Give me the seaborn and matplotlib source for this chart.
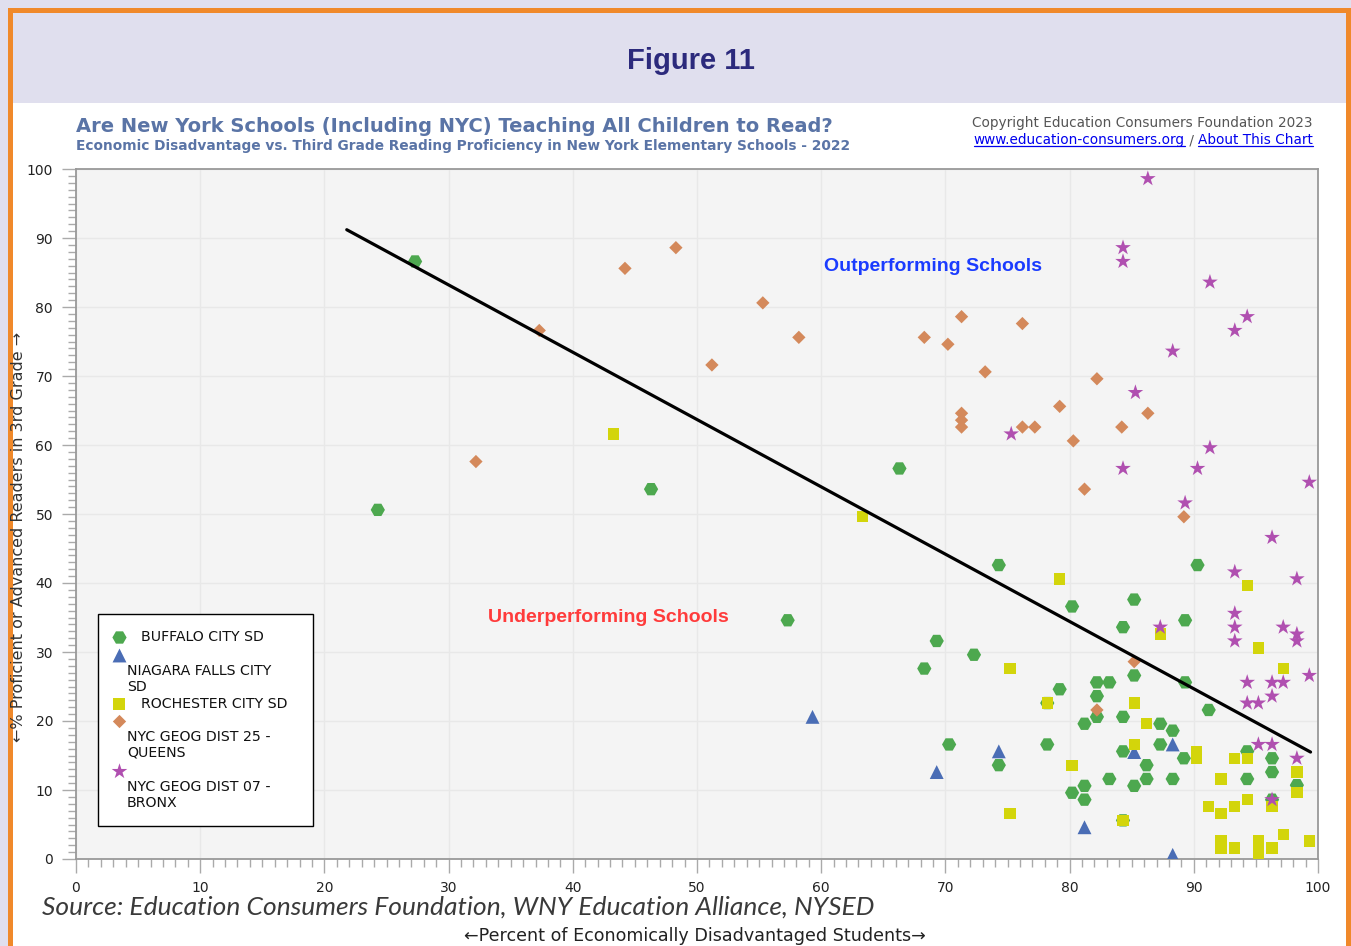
import matplotlib
matplotlib.use("Agg")
import matplotlib.pyplot as plt
import seaborn as sns
import pandas as pd
from matplotlib.patches import Rectangle
from matplotlib.lines import Line2D
from matplotlib.ticker import MultipleLocator

# ---- data ----
districts = ["BUFFALO CITY SD", "NIAGARA FALLS CITY SD", "ROCHESTER CITY SD",
             "NYC GEOG DIST 25 - QUEENS", "NYC GEOG DIST 07 - BRONX"]

buffalo_x = [27.3, 24.3, 46.3, 66.3, 57.3, 69.3, 72.3, 68.3, 70.3, 74.3, 74.3, 90.3,
             80.2, 85.2, 84.3, 89.3, 85.2, 89.3, 79.2, 82.2, 83.2, 82.2, 78.2, 91.2,
             81.2, 82.2, 84.3, 87.3, 88.3, 78.2, 84.3, 87.3, 89.2, 86.2, 94.3, 96.3,
             96.3, 94.3, 83.2, 86.2, 88.3, 81.2, 85.2, 80.2, 81.2, 84.3, 98.3, 96.3]
buffalo_y = [86.6, 50.6, 53.6, 56.6, 34.6, 31.6, 29.6, 27.6, 16.6, 13.6, 42.6, 42.6,
             36.6, 37.6, 33.6, 34.6, 26.6, 25.6, 24.6, 25.6, 25.6, 23.6, 22.6, 21.6,
             19.6, 20.6, 20.6, 19.6, 18.6, 16.6, 15.6, 16.6, 14.6, 13.6, 15.6, 14.6,
             12.6, 11.6, 11.6, 11.6, 11.6, 10.6, 10.6, 9.6, 8.6, 5.6, 10.7, 8.6]

niagara_x = [59.3, 69.3, 74.3, 81.2, 85.2, 88.3, 88.3]
niagara_y = [20.6, 12.6, 15.6, 4.6, 15.5, 16.6, 0.6]

rochester_x = [43.3, 63.3, 79.2, 94.3, 87.3, 95.2, 97.2, 75.2, 78.2, 85.2, 86.2, 85.2,
               90.2, 90.2, 93.3, 94.3, 80.2, 92.2, 98.3, 98.3, 96.3, 91.2, 92.2, 93.3,
               94.3, 75.2, 84.3, 97.2, 99.3, 92.2, 92.2, 93.3, 95.2, 95.2, 95.2, 96.3]
rochester_y = [61.6, 49.6, 40.6, 39.6, 32.6, 30.6, 27.6, 27.6, 22.6, 22.6, 19.6, 16.6,
               15.6, 14.6, 14.6, 14.6, 13.6, 11.6, 12.6, 9.6, 7.6, 7.6, 6.6, 7.6,
               8.6, 6.6, 5.6, 3.6, 2.6, 2.6, 1.6, 1.6, 2.6, 1.6, 0.6, 1.6]

queens_x = [32.2, 37.3, 44.2, 48.3, 55.3, 51.2, 58.2, 68.3, 70.2, 71.3, 76.2, 73.2, 82.2,
            71.3, 71.3, 71.3, 76.2, 77.2, 79.2, 80.3, 84.2, 86.3, 81.2, 89.2, 85.2, 82.2]
queens_y = [57.6, 76.6, 85.6, 88.6, 80.6, 71.6, 75.6, 75.6, 74.6, 78.6, 77.6, 70.6, 69.6,
            64.6, 63.6, 62.6, 62.6, 62.6, 65.6, 60.6, 62.6, 64.6, 53.6, 49.6, 28.6, 21.6]

bronx_x = [86.3, 84.3, 84.3, 91.3, 94.3, 93.3, 88.3, 85.3, 75.3, 91.3, 84.3, 90.3,
           99.3, 89.3, 96.3, 93.3, 98.3, 93.3, 93.3, 93.3, 87.3, 97.2, 98.3, 98.3,
           99.3, 94.3, 96.3, 97.2, 94.3, 95.2, 96.3, 95.2, 96.3, 98.3, 96.3]
bronx_y = [98.6, 88.6, 86.6, 83.6, 78.6, 76.6, 73.6, 67.6, 61.6, 59.6, 56.6, 56.6,
           54.6, 51.6, 46.6, 41.6, 40.6, 35.6, 33.6, 31.6, 33.6, 33.6, 32.6, 31.6,
           26.6, 25.6, 25.6, 25.6, 22.6, 22.6, 23.6, 16.6, 16.6, 14.6, 8.6]

trend_x = [21.8, 99.4]
trend_y = [91.2, 15.5]

x_ticks = list(range(0, 101, 10))
y_ticks = list(range(0, 101, 10))

# ---- styling ----
colors = {districts[0]: "#4da84f", districts[1]: "#4a6db5", districts[2]: "#d3d50b",
          districts[3]: "#d4895b", districts[4]: "#b04fb0"}
markers = {districts[0]: "H", districts[1]: "^", districts[2]: "s",
           districts[3]: "D", districts[4]: "*"}
sizes = {districts[0]: 105, districts[1]: 100, districts[2]: 66,
         districts[3]: 46, districts[4]: 140}

frames = []
for name, xs, ys in zip(districts,
                        [buffalo_x, niagara_x, rochester_x, queens_x, bronx_x],
                        [buffalo_y, niagara_y, rochester_y, queens_y, bronx_y]):
    frames.append(pd.DataFrame({"x": xs, "y": ys, "district": name}))
df = pd.concat(frames, ignore_index=True)

sns.set_style("ticks")
plt.rcParams["font.family"] = ["DejaVu Sans"]

W, H = 1351, 946
fig = plt.figure(figsize=(W / 100, H / 100), dpi=100, facecolor="#e0dfee")


def fx(px):
    return px / W


def fy(py):
    return 1 - py / H


# page frame: orange border, lavender header band, white body
fig.patches.append(Rectangle((fx(8), 0), 1, fy(8), transform=fig.transFigure,
                             facecolor="#f0892a", edgecolor="none", zorder=-10))
fig.patches.append(Rectangle((fx(13), fy(103)), fx(1346) - fx(13), fy(13) - fy(103),
                             transform=fig.transFigure, facecolor="#e0dfee",
                             edgecolor="none", zorder=-9))
fig.patches.append(Rectangle((fx(13), 0), fx(1346) - fx(13), fy(103),
                             transform=fig.transFigure, facecolor="white",
                             edgecolor="none", zorder=-9))

ax = fig.add_axes([fx(76), fy(859), fx(1318) - fx(76), fy(169) - fy(859)])
ax.set_zorder(2)
ax.set_facecolor("#f4f4f4")

sns.scatterplot(data=df, x="x", y="y", hue="district", style="district", size="district",
                palette=colors, markers=markers, sizes=sizes, linewidth=0,
                legend=False, ax=ax, zorder=3)
sns.lineplot(x=trend_x, y=trend_y, color="black", linewidth=2.3, ax=ax, zorder=4)

ax.set_xlim(0, 100)
ax.set_ylim(0, 100)
ax.set_xticks(x_ticks)
ax.set_yticks(y_ticks)
ax.xaxis.set_minor_locator(MultipleLocator(1))
ax.yaxis.set_minor_locator(MultipleLocator(1))
ax.tick_params(which="major", length=10, width=1, color="#aaaaaa", labelsize=10,
               labelcolor="#222222", pad=6)
ax.tick_params(which="minor", length=6, width=1, color="#aaaaaa")
ax.tick_params(axis="y", which="major", pad=6.5)
ax.grid(which="major", color="#e8e8e8", linewidth=1)
ax.set_axisbelow(True)
for s in ax.spines.values():
    s.set_color("#999999")
    s.set_linewidth(1.3)
ax.set_xlabel("")
ax.set_ylabel("")

# region annotations
ax.text(69.0, 85.8, "Outperforming Schools", color="#1a3bff", fontsize=14,
        fontweight="bold", family=["Liberation Sans"], ha="center", va="center")
ax.text(42.9, 35.0, "Underperforming Schools", color="#ff3b3b", fontsize=14,
        fontweight="bold", family=["Liberation Sans"], ha="center", va="center")

# legend box drawn by hand to follow the wrapped layout of the original
ax.add_patch(Rectangle((0.0177, 0.0478), 0.1731, 0.3072, transform=ax.transAxes,
                       facecolor="white", edgecolor="black", linewidth=1, zorder=5))
leg_items = [
    (districts[0], 0.3217, "BUFFALO CITY SD", 0.0523, 0.3217),
    (districts[1], 0.2957, "NIAGARA FALLS CITY\nSD", 0.0411, 0.2609),
    (districts[2], 0.2246, "ROCHESTER CITY SD", 0.0523, 0.2246),
    (districts[3], 0.2000, "NYC GEOG DIST 25 -\nQUEENS", 0.0411, 0.1652),
    (districts[4], 0.1275, "NYC GEOG DIST 07 -\nBRONX", 0.0411, 0.0928),
]
for key, my, label, tx, ty in leg_items:
    ax.scatter([0.0346], [my], transform=ax.transAxes, marker=markers[key],
               s=sizes[key], color=colors[key], linewidth=0, zorder=6)
    ax.text(tx, ty, label, transform=ax.transAxes, fontsize=10.2, color="#111111",
            ha="left", va="center", linespacing=1.15, zorder=6)

# header texts
fig.text(fx(691), fy(61), "Figure 11", fontsize=21, fontweight="bold",
         color="#2c2a7c", family=["Liberation Sans", "DejaVu Sans"], ha="center", va="center")
fig.text(fx(76), fy(126), "Are New York Schools (Including NYC) Teaching All Children to Read?",
         fontsize=14, fontweight="bold", color="#5a74a6", ha="left", va="center")
fig.text(fx(76), fy(146), "Economic Disadvantage vs. Third Grade Reading Proficiency in "
         "New York Elementary Schools - 2022",
         fontsize=9.9, fontweight="bold", color="#5a74a6", ha="left", va="center")
fig.text(fx(1313), fy(123), "Copyright Education Consumers Foundation 2023",
         fontsize=9.8, color="#555555", ha="right", va="center")

# link line, placed right to left and underlined
fig.canvas.draw()
renderer = fig.canvas.get_renderer()
inv = fig.transFigure.inverted()
right = fx(1313)
for part, col, underline in [("About This Chart", "#0000ee", True),
                             (" / ", "#555555", False),
                             ("www.education-consumers.org", "#0000ee", True)]:
    t = fig.text(right, fy(140), part, fontsize=9.8, color=col, ha="right", va="center")
    bb = t.get_window_extent(renderer).transformed(inv)
    if underline:
        fig.lines.append(Line2D([bb.x0, bb.x1], [bb.y0 + 0.0012] * 2,
                                transform=fig.transFigure, color=col, linewidth=0.9))
    right = bb.x0

# axis titles and source
fig.text(fx(19), fy(537), "\u2190% Proficient or Advanced Readers in 3rd Grade \u2192",
         rotation=90, fontsize=11.5, color="#333333", ha="center", va="center")
fig.text(fx(695), fy(936), "\u2190Percent of Economically Disadvantaged Students\u2192",
         fontsize=12.6, color="#222222", ha="center", va="center")
fig.text(fx(42), fy(907), "Source: Education Consumers Foundation, WNY Education Alliance, NYSED",
         fontsize=19, style="italic", fontweight="normal", color="#3a3a3a",
         family=["Lato", "DejaVu Sans"], ha="left", va="center")

fig.savefig("out.png", dpi=100, facecolor=fig.get_facecolor())
